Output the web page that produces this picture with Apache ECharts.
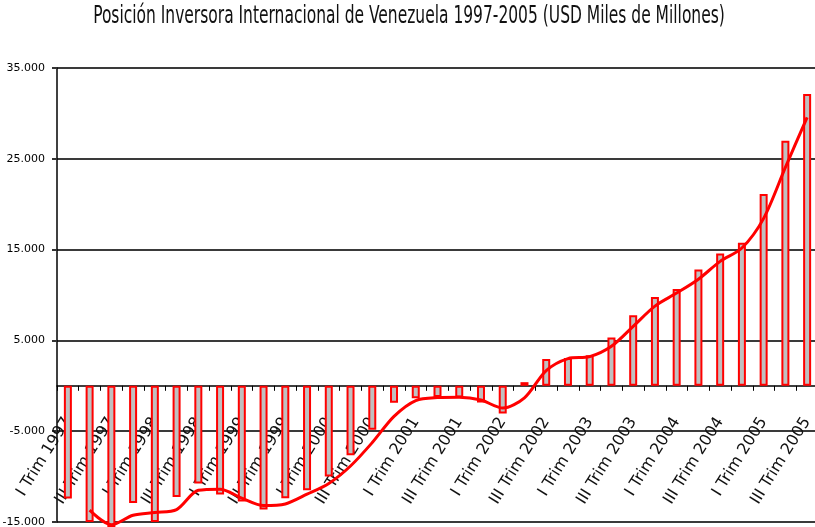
<!DOCTYPE html>
<html>
<head>
<meta charset="utf-8">
<script src="https://cdn.jsdelivr.net/npm/echarts@6/dist/echarts.min.js"></script>
<style>
html,body{margin:0;padding:0;background:#fff;}
#chart{width:815px;height:527px;}
</style>
</head>
<body>
<div id="chart"></div>
<script>
const titleText = 'Posición Inversora Internacional de Venezuela 1997-2005 (USD Miles de Millones)';
const categories = [
  'I Trim 1997','II Trim 1997','III Trim 1997','IV Trim 1997',
  'I Trim 1998','II Trim 1998','III Trim 1998','IV Trim 1998',
  'I Trim 1999','II Trim 1999','III Trim 1999','IV Trim 1999',
  'I Trim 2000','II Trim 2000','III Trim 2000','IV Trim 2000',
  'I Trim 2001','II Trim 2001','III Trim 2001','IV Trim 2001',
  'I Trim 2002','II Trim 2002','III Trim 2002','IV Trim 2002',
  'I Trim 2003','II Trim 2003','III Trim 2003','IV Trim 2003',
  'I Trim 2004','II Trim 2004','III Trim 2004','IV Trim 2004',
  'I Trim 2005','II Trim 2005','III Trim 2005'
];
const positionValues = [
  -12400, -15000, -15600, -12900,
  -15000, -12250, -10770, -11980,
  -12750, -13630, -12380, -11500,
  -10000, -7650, -4850, -1860,
  -1380, -1220, -1290, -1840,
  -3050, 400, 2950, 3050,
  3370, 5320, 7780, 9770,
  10650, 12820, 14580, 15750,
  21120, 26990, 32140
];
const trendValues = [
  null, -13700, -15300, -14250,
  -13950, -13630, -11510, -11380,
  -12370, -13190, -13010, -11940,
  -10750, -8830, -6250, -3360,
  -1620, -1300, -1260, -1570,
  -2450, -1330, 1680, 3000,
  3210, 4350, 6550, 8780,
  10210, 11740, 13700, 15170,
  18440, 24060, 29570
];
const yMin = -15000, yMax = 35000, yStep = 10000;

function fmt(v){
  const s = Math.abs(v).toString().replace(/\B(?=(\d{3})+(?!\d))/g, '.');
  return (v < 0 ? '-' : '') + s;
}

const chart = echarts.init(document.getElementById('chart'), null, {renderer:'canvas'});
chart.setOption({
  animation: false,
  backgroundColor: '#fff',
  graphic: [{
    type: 'text',
    x: 409,
    y: 5,
    scaleX: 0.82,
    scaleY: 1.15,
    style: {
      text: titleText,
      align: 'center',
      verticalAlign: 'top',
      font: 'normal 21px "DejaVu Sans Condensed", "DejaVu Sans", sans-serif',
      fill: '#111'
    }
  }],
  grid: {
    left: 57,
    top: 68,
    width: 761,
    height: 454,
    containLabel: false,
    outerBoundsMode: 'none'
  },
  xAxis: {
    type: 'category',
    data: categories,
    boundaryGap: true,
    offset: 0,
    axisLine: { onZero: false, lineStyle: { color: '#000', width: 1.5 } },
    axisTick: { show: true, interval: 0, length: 5, inside: false, lineStyle: { color: '#000', width: 1 } },
    axisLabel: {
      interval: 1,
      rotate: 58,
      margin: 33,
      padding: [0, 0, 16, 0],
      fontFamily: '"DejaVu Sans", sans-serif',
      fontSize: 16,
      color: '#111'
    },
    splitLine: { show: false }
  },
  yAxis: {
    type: 'value',
    min: yMin,
    max: yMax,
    interval: yStep,
    axisLine: { show: true, lineStyle: { color: '#000', width: 1.5 } },
    axisTick: { show: true, length: 5, lineStyle: { color: '#333', width: 2 } },
    axisLabel: {
      formatter: fmt,
      margin: 12,
      fontFamily: '"DejaVu Sans", sans-serif',
      fontSize: 11,
      color: '#000'
    },
    splitLine: { show: true, lineStyle: { color: '#3a3a3a', width: 2 } }
  },
  series: [
    {
      type: 'bar',
      data: positionValues,
      barWidth: 8,
      clip: false,
      itemStyle: { color: '#c0c0c0', borderColor: '#ff0000', borderWidth: 2 }
    },
    {
      type: 'line',
      data: trendValues,
      smooth: 0.3,
      clip: false,
      showSymbol: false,
      symbol: 'none',
      connectNulls: false,
      lineStyle: { color: '#ff0000', width: 3 },
      z: 5
    }
  ]
});
// place the category axis on the zero value of the value axis (labels move with it)
const zeroY = chart.convertToPixel({ yAxisIndex: 0 }, 0);
const bottomY = chart.convertToPixel({ yAxisIndex: 0 }, yMin);
chart.setOption({ xAxis: { offset: zeroY - bottomY } });
</script>
</body>
</html>
